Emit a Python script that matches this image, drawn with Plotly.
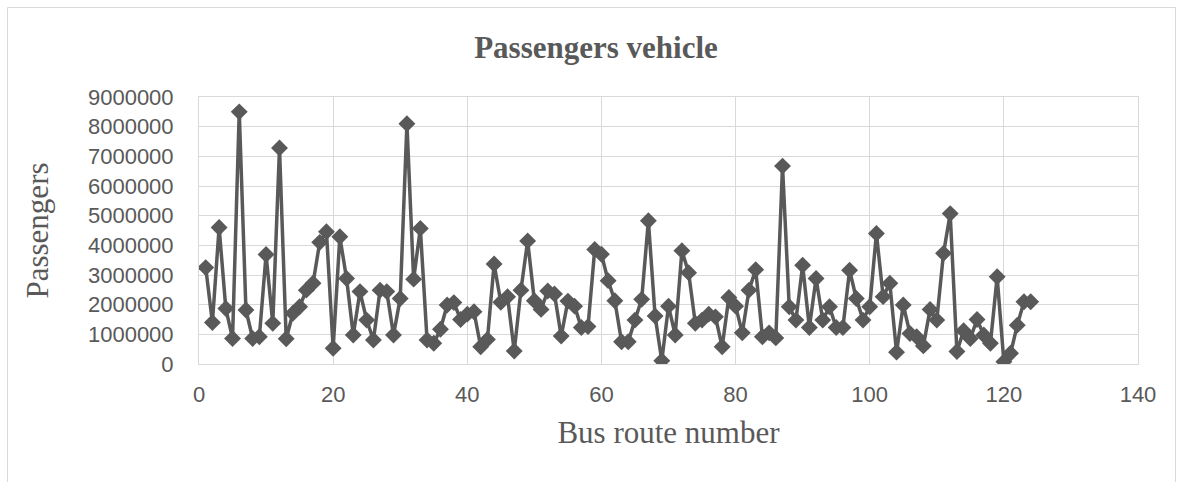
import plotly.graph_objects as go

# Bus routes 1..124 and yearly passengers carried per route
route_number = list(range(1, 125))
passengers = [
    3250000, 1400000, 4600000, 1870000, 860000, 8500000, 1820000, 860000, 920000, 3690000,
    1370000, 7280000, 850000, 1710000, 1930000, 2490000, 2720000, 4100000, 4460000, 530000,
    4290000, 2880000, 980000, 2440000, 1480000, 810000, 2490000, 2440000, 980000, 2210000,
    8100000, 2860000, 4570000, 810000, 700000, 1170000, 1990000, 2070000, 1500000, 1680000,
    1760000, 580000, 830000, 3370000, 2080000, 2270000, 440000, 2490000, 4150000, 2130000,
    1840000, 2460000, 2360000, 940000, 2120000, 1950000, 1230000, 1260000, 3860000, 3700000,
    2810000, 2130000, 750000, 750000, 1480000, 2180000, 4830000, 1620000, 110000, 1950000,
    980000, 3820000, 3080000, 1370000, 1480000, 1680000, 1590000, 580000, 2240000, 1950000,
    1050000, 2490000, 3180000, 920000, 1050000, 880000, 6670000, 1930000, 1480000, 3330000,
    1230000, 2880000, 1480000, 1930000, 1230000, 1230000, 3160000, 2210000, 1480000, 1930000,
    4400000, 2270000, 2720000, 400000, 1990000, 1030000, 920000, 610000, 1840000, 1480000,
    3730000, 5070000, 420000, 1120000, 860000, 1500000, 980000, 700000, 2940000, 80000,
    360000, 1310000, 2100000, 2100000,
]

x_ticks = [0, 20, 40, 60, 80, 100, 120, 140]
y_ticks = [0, 1000000, 2000000, 3000000, 4000000, 5000000, 6000000, 7000000, 8000000, 9000000]

INK = "#595959"
GRID = "#d9d9d9"
SERIF = "Liberation Serif, Times New Roman, serif"
SANS = "Liberation Sans, Arial, sans-serif"

fig = go.Figure(
    go.Scatter(
        x=route_number,
        y=passengers,
        mode="lines+markers",
        line=dict(color=INK, width=3.5),
        marker=dict(symbol="diamond", size=13, color=INK),
        showlegend=False,
    )
)

fig.update_layout(
    width=1182,
    height=482,
    margin=dict(l=199, r=44, t=97, b=118),
    paper_bgcolor="white",
    plot_bgcolor="white",
    title=dict(
        text="<b>Passengers vehicle</b>",
        x=596 / 1182,
        xref="container",
        xanchor="center",
        y=1 - 47 / 482,
        yref="container",
        yanchor="middle",
        font=dict(family=SERIF, size=31, color=INK),
    ),
    xaxis=dict(
        range=[0, 140],
        tickvals=x_ticks,
        ticktext=[str(v) for v in x_ticks],
        showgrid=True,
        gridcolor=GRID,
        gridwidth=1,
        zeroline=False,
        showline=True,
        linecolor=GRID,
        linewidth=1,
        mirror=True,
        ticks="",
        ticklabelstandoff=11,
        tickfont=dict(family=SANS, size=22, color=INK),
        title=dict(text="Bus route number", standoff=14,
                   font=dict(family=SERIF, size=31, color=INK)),
    ),
    yaxis=dict(
        range=[0, 9000000],
        tickvals=y_ticks,
        ticktext=[str(v) for v in y_ticks],
        showgrid=True,
        gridcolor=GRID,
        gridwidth=1,
        zeroline=False,
        showline=True,
        linecolor=GRID,
        linewidth=1,
        mirror=True,
        ticks="",
        ticklabelstandoff=20,
        tickfont=dict(family=SANS, size=22, color=INK),
        title=dict(text="Passengers", standoff=30,
                   font=dict(family=SERIF, size=31, color=INK)),
    ),
)

# Chart frame around the whole figure
fig.add_shape(
    type="rect",
    xref="paper", yref="paper",
    x0=(7.5 - 199) / 939, x1=(1175.5 - 199) / 939,
    y0=(364 - 495) / 267, y1=(364 - 7.5) / 267,
    line=dict(color=GRID, width=1),
    fillcolor="rgba(0,0,0,0)",
    layer="below",
)

fig.write_html("out.html")
